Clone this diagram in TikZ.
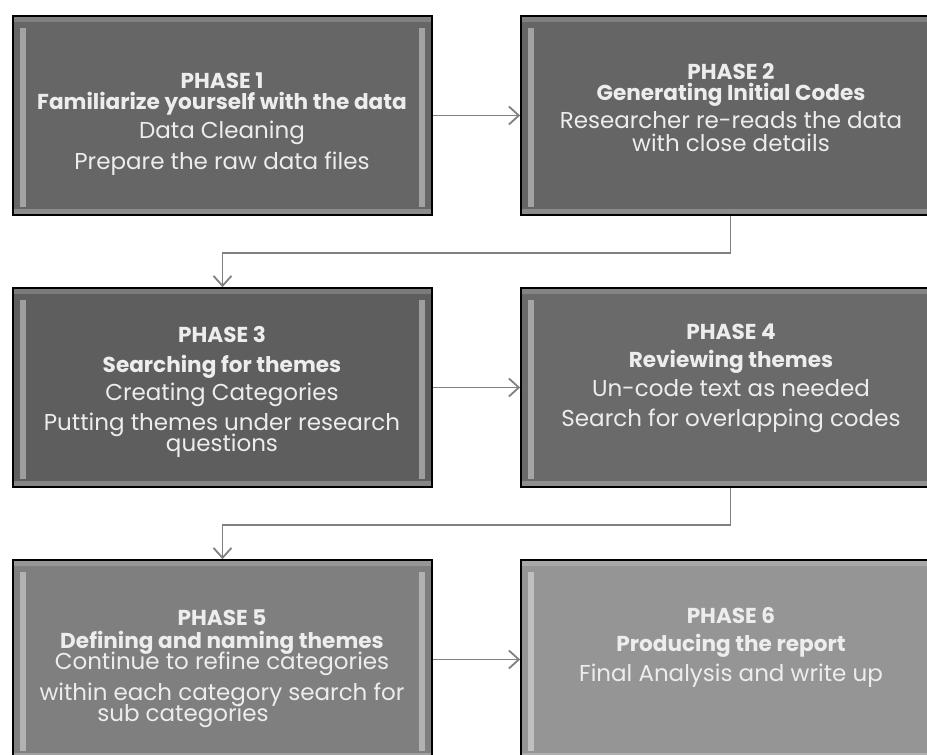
\documentclass[tikz,border=0pt]{standalone}
\usepackage{fontspec}
\setmainfont{Poppins}
\usetikzlibrary{arrows.meta}

\definecolor{boxa}{HTML}{666666}
\definecolor{boxb}{HTML}{656565}
\definecolor{boxc}{HTML}{5E5E5E}
\definecolor{boxd}{HTML}{6A6A6A}
\definecolor{boxe}{HTML}{7F7F7F}
\definecolor{boxf}{HTML}{959595}
\definecolor{linkgray}{HTML}{808080}

\newcommand{\phasehead}[1]{{\fontsize{10.8}{10.5}\selectfont\bfseries #1}}
\newcommand{\tightlines}{\setlength{\lineskiplimit}{-20pt}}

\tikzset{
    phasebox/.style={draw=black, line width=0.8pt, minimum width=209.5pt, minimum height=99.5pt, inner sep=0pt,
        path picture={
            \fill[white,opacity=0.18] (path picture bounding box.north west) rectangle ([yshift=-3pt]path picture bounding box.north east);
            \fill[white,opacity=0.4] ([xshift=3.5pt,yshift=-6pt]path picture bounding box.north west) rectangle ([xshift=6.5pt,yshift=4pt]path picture bounding box.south west);
            \fill[white,opacity=0.4] ([xshift=-3.5pt,yshift=-6pt]path picture bounding box.north east) rectangle ([xshift=-6.5pt,yshift=4pt]path picture bounding box.south east);
            \fill[white,opacity=0.25] ([yshift=3pt]path picture bounding box.south west) rectangle (path picture bounding box.south east);
        }},
    phasetext/.style={text=white!93!black, align=center, font=\fontsize{11.5}{10.5}\selectfont\tightlines},
    link/.style={draw=linkgray, line width=0.9pt, -{Straight Barb[length=5pt,width=9pt]}}
}

\begin{document}
\begin{tikzpicture}[x=0.5pt,y=-0.5pt]
            \useasboundingbox (0,0) rectangle (927,755);

            \node[phasebox,fill=boxa] (p1) at (222.5,115.5) {};
            \node[phasebox,fill=boxb] (p2) at (730.5,115.5) {};
            \node[phasebox,fill=boxc] (p3) at (222.5,387.5) {};
            \node[phasebox,fill=boxd] (p4) at (730.5,387.5) {};
            \node[phasebox,fill=boxe] (p5) at (222.5,659.5) {};
            \node[phasebox,fill=boxf] (p6) at (730.5,659.5) {};

            \node[phasetext] (t1) at (222,124.5) {\phasehead{PHASE 1}\\ \phasehead{Familiarize yourself with the data}\\[4pt] Data Cleaning\\[5pt] Prepare the raw data files};
            \node[phasetext] (t2) at (731,107.5) {\phasehead{PHASE 2}\\ \phasehead{Generating Initial Codes}\\[3.5pt] Researcher re-reads the data\\[1pt] with close details};
            \node[phasetext] (t3) at (222,391.5) {\phasehead{PHASE 3}\\[4.5pt] \phasehead{Searching for themes}\\[3.5pt] Creating Categories\\[4.5pt] Putting themes under research\\ questions};
            \node[phasetext] (t4) at (731,378.5) {\phasehead{PHASE 4}\\[3.5pt] \phasehead{Reviewing themes}\\[4pt] Un-code text as needed\\[4.5pt] Search for overlapping codes};
            \node[phasetext] (t5) at (222,668.5) {\phasehead{PHASE 5}\\[1pt] \phasehead{Defining and naming themes}\\ Continue to refine categories\\[5pt] within each category search for\\ sub categories\hspace*{39pt}};
            \node[phasetext] (t6) at (731,647) {\phasehead{PHASE 6}\\[3.5pt] \phasehead{Producing the report}\\[4.5pt] Final Analysis and write up};

            \draw[link] (p1) -- (p2);
            \draw[link] (p2.south) -- ++(0,37) -| (p3.north);
            \draw[link] (p3) -- (p4);
            \draw[link] (p4.south) -- ++(0,37) -| (p5.north);
            \draw[link] (p5) -- (p6);
        \end{tikzpicture}
\end{document}
